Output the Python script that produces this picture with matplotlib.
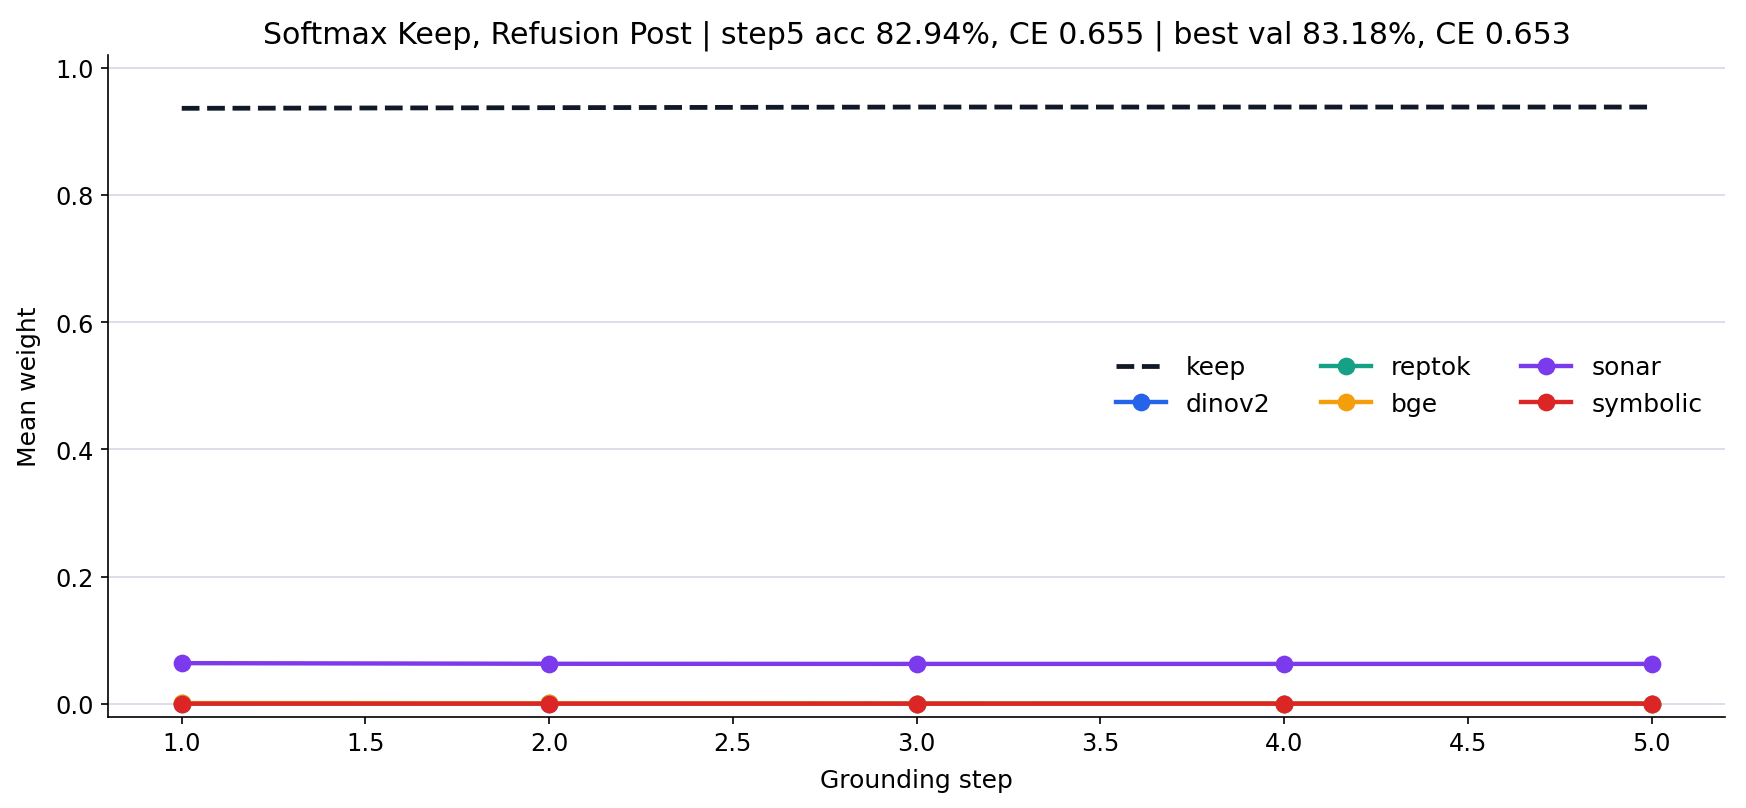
import numpy as np
import matplotlib.pyplot as plt

steps = [1, 2, 3, 4, 5]
keep = [0.936, 0.937, 0.938, 0.938, 0.938]
dinov2 = [0.0005, 0.0005, 0.0004, 0.0004, 0.0004]
reptok = [0.0006, 0.0006, 0.0005, 0.0005, 0.0005]
bge = [0.0012, 0.0010, 0.0005, 0.0004, 0.0004]
sonar = [0.0640, 0.0630, 0.0628, 0.0628, 0.0628]
symbolic = [0.0004, 0.0004, 0.0003, 0.0003, 0.0003]

series = [
    ("dinov2", dinov2, "#2563eb"),
    ("reptok", reptok, "#16a085"),
    ("bge", bge, "#f59e0b"),
    ("sonar", sonar, "#7c3aed"),
    ("symbolic", symbolic, "#dc2626"),
]

fig, ax = plt.subplots(figsize=(11.64, 5.393), dpi=150)
fig.subplots_adjust(left=0.062, right=0.988, top=0.931, bottom=0.113)

ax.plot(steps, keep, "--", color="#111827", lw=2.3, label="keep")
for name, vals, col in series:
    ax.plot(steps, vals, "-o", color=col, lw=2.1, ms=7.5, label=name)

ax.set_ylim(-0.02, 1.02)
ax.grid(axis="y", color="#d5d8e8", lw=0.8)
ax.set_axisbelow(True)
for s in ["top", "right"]:
    ax.spines[s].set_visible(False)

ax.set_xlabel("Grounding step", fontsize=12, labelpad=6)
ax.set_ylabel("Mean weight", fontsize=12, labelpad=7)
ax.tick_params(labelsize=11.5)
ax.set_title("Softmax Keep, Refusion Post | step5 acc 82.94%, CE 0.655 | best val 83.18%, CE 0.653",
             fontsize=14.4)
ax.legend(ncol=3, frameon=False, loc="center right", fontsize=12)

plt.savefig("out.png")
